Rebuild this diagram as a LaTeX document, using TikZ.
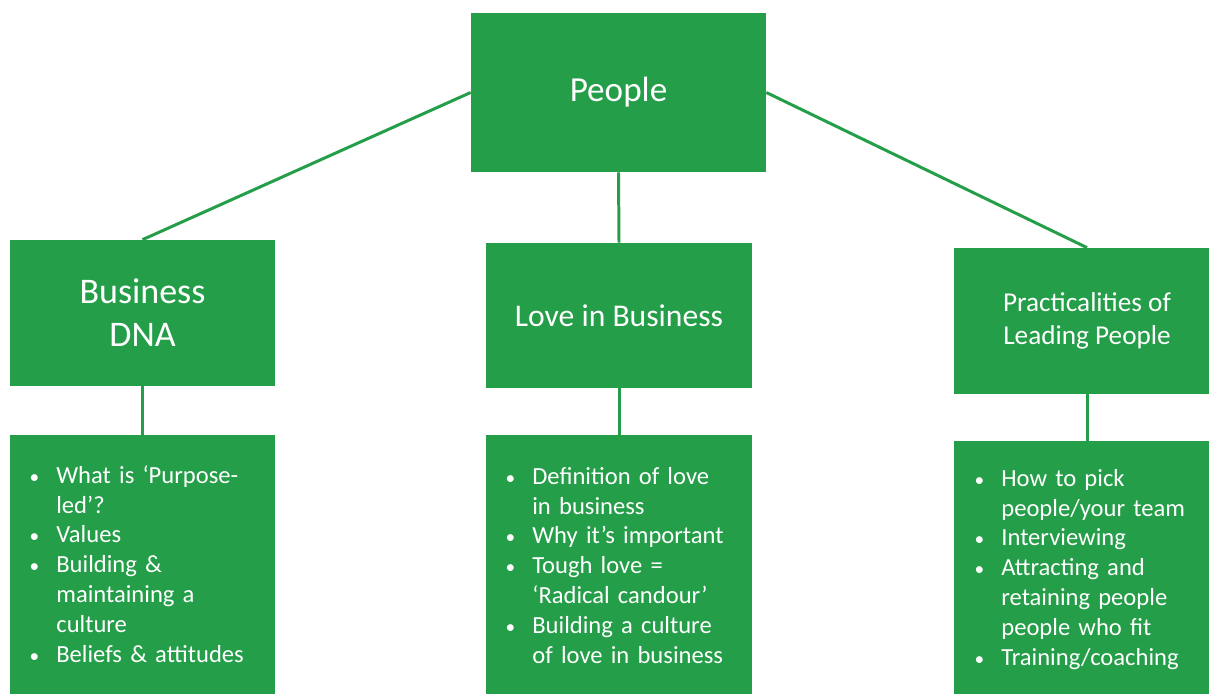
\documentclass[tikz,border=0pt]{standalone}
\usepackage{fontspec}
\setmainfont{Carlito}
\usepackage{enumitem}
\usepackage{tikz}
\usetikzlibrary{positioning}
\definecolor{leafgreen}{RGB}{36,158,72}
\newcommand{\dotlabel}{{\fontsize{11}{11}\selectfont\textbullet}}

\begin{document}
\begin{tikzpicture}[x=0.02cm, y=-0.02cm]
			\tikzset{
			topic/.style={
					rectangle, fill=leafgreen, inner sep=0pt,
					text=white, align=center,
				},
			list/.style={
					anchor=north west, inner sep=0pt, text=white,
					text width=4.7cm, font=\fontsize{14}{17}\selectfont,
				},
			link/.style={
			draw=leafgreen, line width=1.7pt, },
			}
			\useasboundingbox (0,0) rectangle (1209,693);
			\clip (0,0) rectangle (1209,693);

			\node[topic, minimum width=5.9cm, minimum height=3.18cm,
				font=\fontsize{20}{24}\selectfont] (people) at (618.5,92.5) {People};
			\node[topic, minimum width=5.3cm, minimum height=2.92cm,
				font=\fontsize{20.5}{24.5}\selectfont] (dna) at (142.5,313) {Business\\DNA};
			\node[topic, minimum width=5.32cm, minimum height=2.9cm,
				font=\fontsize{18}{22}\selectfont] (love) at (619,315.5) {Love in Business};
			\node[topic, minimum width=5.32cm, minimum height=2.92cm,
				font=\fontsize{15.5}{19}\selectfont] (lead) at (1087,321) {Practicalities of\\Leading People};

			% lower boxes run past the bottom edge
			\node[topic, minimum width=5.3cm, minimum height=5.4cm, anchor=north] (dnabox) at (142.5,435) {};
			\node[topic, minimum width=5.32cm, minimum height=5.4cm, anchor=north] (lovebox) at (619,435) {};
			\node[topic, minimum width=5.32cm, minimum height=5.3cm, anchor=north] (leadbox) at (1087,441) {};

			\node[list] (dnalist) at (33,453) {
				\begin{itemize}[label=\dotlabel, leftmargin=0.46cm, labelsep=0.34cm, itemsep=0pt, topsep=0pt, parsep=0pt, partopsep=0pt]
					\item What is ‘Purpose-\\led’?
					\item Values
					\item Building \&\\maintaining a\\culture
					\item Beliefs \& attitudes
				\end{itemize}};
			\node[list] (lovelist) at (509,454) {
				\begin{itemize}[label=\dotlabel, leftmargin=0.46cm, labelsep=0.34cm, itemsep=0pt, topsep=0pt, parsep=0pt, partopsep=0pt]
					\item Definition of love\\in business
					\item Why it’s important
					\item Tough love =\\‘Radical candour’
					\item Building a culture\\of love in business
				\end{itemize}};
			\node[list] (leadlist) at (978,456) {
				\begin{itemize}[label=\dotlabel, leftmargin=0.46cm, labelsep=0.34cm, itemsep=0pt, topsep=0pt, parsep=0pt, partopsep=0pt]
					\item How to pick\\people/your team
					\item Interviewing
					\item Attracting and\\retaining people\\people who fit
					\item Training/coaching
				\end{itemize}};

			\draw[link] (people.west) -- (dna.north);
			\draw[link] (people.south) -- (love.north);
			\draw[link] (people.east) -- (lead.north);
			\draw[link] (dna.south) -- (dnabox.north);
			\draw[link] (love.south) -- (lovebox.north);
			\draw[link] (lead.south) -- (leadbox.north);
		\end{tikzpicture}
\end{document}
